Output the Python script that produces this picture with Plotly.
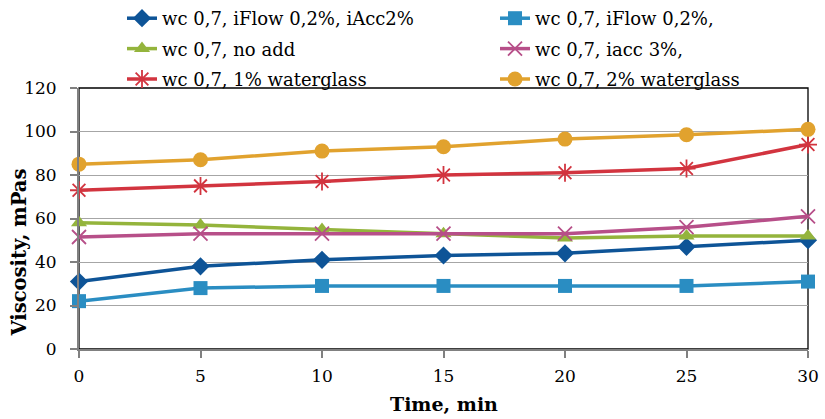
import plotly.graph_objects as go

time_min = [0, 5, 10, 15, 20, 25, 30]

names = [
    "wc 0,7, iFlow 0,2%, iAcc2%",
    "wc 0,7, iFlow 0,2%,",
    "wc 0,7, no add",
    "wc 0,7, iacc 3%,",
    "wc 0,7, 1% waterglass",
    "wc 0,7, 2% waterglass",
]

iflow_iacc2 = [31, 38, 41, 43, 44, 47, 50]
iflow = [22, 28, 29, 29, 29, 29, 31]
no_add = [58, 57, 55, 53, 51, 52, 52]
iacc3 = [51.5, 53, 53, 53, 53, 56, 61]
waterglass1 = [73, 75, 77, 80, 81, 83, 94]
waterglass2 = [85, 87, 91, 93, 96.5, 98.5, 101]

y_ticks = [0, 20, 40, 60, 80, 100, 120]
x_ticks = [0, 5, 10, 15, 20, 25, 30]

series = [iflow_iacc2, iflow, no_add, iacc3, waterglass1, waterglass2]
colors = ["#0E5497", "#2A8DC2", "#94B43C", "#B74F89", "#D2343F", "#E1A22E"]
symbols = ["diamond", "square", "triangle-up", "x-thin-open", "asterisk-open", "circle"]
sizes = [14, 14, 14, 14, 15, 15]

FONT = "DejaVu Serif, Liberation Serif, serif"

fig = go.Figure()
for i, (name, vals, col, sym, sz) in enumerate(zip(names, series, colors, symbols, sizes)):
    open_sym = sym.endswith("open")
    fig.add_trace(go.Scatter(
        x=time_min, y=vals, name=name, mode="lines+markers",
        line=dict(color=col, width=3.5),
        marker=dict(symbol=sym, size=sz, color=col,
                    line=dict(color=col, width=1.8 if open_sym else 0)),
        cliponaxis=False,
        # two legend columns, filled row by row
        legend="legend" if i % 2 == 0 else "legend2",
        legendgroup=f"g{i}",
    ))

# plot-area frame
fig.add_shape(type="rect", xref="paper", yref="paper", x0=0, y0=0, x1=1, y1=1,
              line=dict(color="#000000", width=1.3), layer="below")

# axis titles
fig.add_annotation(text="<b>Time, min</b>", xref="paper", yref="paper",
                   x=0.5, y=-55 / 261, xanchor="center", yanchor="middle",
                   showarrow=False, font=dict(family=FONT, size=19, color="#000000"))
fig.add_annotation(text="<b>Viscosity, mPas</b>", xref="paper", yref="paper",
                   x=-60 / 729, y=0.37, xanchor="center", yanchor="middle", textangle=-90,
                   showarrow=False, font=dict(family=FONT, size=19.5, color="#000000"))

legend_common = dict(
    orientation="v", xref="container", yref="container",
    yanchor="top", xanchor="left", y=1.014,
    font=dict(family=FONT, size=18, color="#000000"),
    tracegroupgap=4, bgcolor="rgba(0,0,0,0)",
)

fig.update_layout(
    width=825, height=419,
    margin=dict(l=79, r=17, t=88, b=70, autoexpand=False),
    paper_bgcolor="white", plot_bgcolor="white",
    font=dict(family=FONT, size=17, color="#000000"),
    showlegend=True,
    legend=dict(legend_common, x=122 / 825),
    legend2=dict(legend_common, x=495 / 825),
    xaxis=dict(
        range=[0, 30], tickvals=x_ticks, ticktext=[str(v) for v in x_ticks],
        showgrid=False, zeroline=False,
        showline=True, linecolor="#808080", linewidth=2,
        ticks="outside", ticklen=7, tickcolor="#808080", tickwidth=1.5,
        ticklabelstandoff=4,
        tickfont=dict(family=FONT, size=17),
    ),
    yaxis=dict(
        range=[0, 120], tickvals=y_ticks, ticktext=[str(v) for v in y_ticks],
        showgrid=True, gridcolor="#A6A6A6", gridwidth=1.3,
        zeroline=False,
        showline=True, linecolor="#808080", linewidth=2,
        ticks="outside", ticklen=7, tickcolor="#808080", tickwidth=1.5,
        ticklabelstandoff=10,
        tickfont=dict(family=FONT, size=17),
    ),
)

fig.write_html("out.html")
